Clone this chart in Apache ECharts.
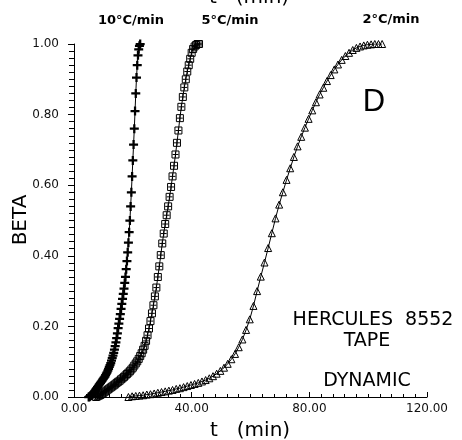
<!DOCTYPE html>
<html>
<head>
<meta charset="utf-8">
<script src="https://cdn.jsdelivr.net/npm/echarts@6/dist/echarts.min.js"></script>
<style>
  html, body { margin: 0; padding: 0; background: #fff; }
  #chart { width: 462px; height: 440px; }
</style>
</head>
<body>
<div id="chart"></div>
<script>
// Degree of cure (BETA) versus time for three heating rates, Hercules 8552 tape.

// 10 °C/min run
const time10 = [5.00,5.25,5.50,5.75,6.00,6.25,6.50,6.75,7.00,7.25,7.50,7.75,8.00,8.25,8.50,8.75,9.00,9.25,9.50,9.75,
  10.00,10.25,10.50,10.75,11.00,11.25,11.50,11.75,12.00,12.25,12.50,12.75,13.00,13.25,13.50,13.75,14.00,14.25,14.50,14.75,
  15.00,15.25,15.50,15.75,16.00,16.25,16.50,16.75,17.00,17.25,17.50,17.75,18.00,18.25,18.50,18.75,19.00,19.25,19.50,19.75,
  20.00,20.25,20.50,20.75,21.00,21.25,21.50,21.75,22.00,22.25,22.50];
const beta10 = [0.000,0.001,0.002,0.004,0.006,0.008,0.010,0.013,0.016,0.019,0.022,0.025,0.028,0.031,0.034,0.037,0.040,0.043,0.046,0.049,
  0.052,0.055,0.058,0.062,0.066,0.070,0.075,0.080,0.085,0.090,0.096,0.103,0.110,0.117,0.125,0.134,0.144,0.155,0.167,0.180,
  0.195,0.208,0.221,0.235,0.250,0.264,0.278,0.292,0.307,0.323,0.340,0.362,0.385,0.410,0.437,0.467,0.500,0.540,0.580,0.625,
  0.670,0.715,0.760,0.810,0.860,0.905,0.940,0.968,0.985,0.995,1.000];

// 5 °C/min run
const time5 = [7.5,8.0,8.5,9.0,9.5,10.0,10.5,11.0,11.5,12.0,12.5,13.0,13.5,14.0,14.5,15.0,15.5,16.0,16.5,17.0,
  17.5,18.0,18.5,19.0,19.5,20.0,20.5,21.0,21.5,22.0,22.5,23.0,23.5,24.0,24.5,25.0,25.5,26.0,26.5,27.0,
  27.5,28.0,28.5,29.0,29.5,30.0,30.5,31.0,31.5,32.0,32.5,33.0,33.5,34.0,34.5,35.0,35.5,36.0,36.5,37.0,
  37.5,38.0,38.5,39.0,39.5,40.0,40.5,41.0,41.5,42.0,42.5];
const beta5 = [0.000,0.002,0.004,0.006,0.009,0.012,0.015,0.018,0.021,0.024,0.027,0.030,0.033,0.036,0.040,0.043,0.046,0.050,0.053,0.057,
  0.061,0.065,0.069,0.073,0.078,0.083,0.089,0.095,0.101,0.108,0.116,0.124,0.134,0.145,0.159,0.175,0.194,0.215,0.237,0.260,
  0.285,0.310,0.340,0.370,0.402,0.435,0.463,0.490,0.515,0.540,0.567,0.595,0.625,0.655,0.687,0.720,0.755,0.790,0.822,0.850,
  0.877,0.900,0.922,0.940,0.958,0.975,0.986,0.993,0.997,1.000,1.000];

// 2 °C/min run
const time2 = [18.50,19.75,21.00,22.25,23.50,24.75,26.00,27.25,28.50,29.75,31.00,32.25,33.50,34.75,36.00,37.25,38.50,39.75,
  41.00,42.25,43.50,44.75,46.00,47.25,48.50,49.75,51.00,52.25,53.50,54.75,56.00,57.25,58.50,59.75,61.00,62.25,63.50,64.75,
  66.00,67.25,68.50,69.75,71.00,72.25,73.50,74.75,76.00,77.25,78.50,79.75,81.00,82.25,83.50,84.75,86.00,87.25,88.50,89.75,
  91.00,92.25,93.50,94.75,96.00,97.25,98.50,99.75,101.00,102.25,103.50,104.75];
const beta2 = [0.000,0.002,0.003,0.004,0.005,0.007,0.008,0.010,0.012,0.014,0.016,0.018,0.020,0.023,0.025,0.028,0.031,0.034,
  0.037,0.040,0.044,0.048,0.053,0.059,0.066,0.074,0.083,0.094,0.107,0.122,0.141,0.163,0.190,0.220,0.258,0.300,0.341,0.381,
  0.422,0.464,0.506,0.545,0.580,0.615,0.648,0.680,0.710,0.737,0.763,0.788,0.812,0.835,0.857,0.876,0.895,0.912,0.928,0.942,
  0.955,0.966,0.975,0.983,0.989,0.993,0.996,0.998,0.999,1.000,1.000,1.000];

const seriesNames = ['10°C/min', '5°C/min', '2°C/min'];
const panelLetter = 'D';
const noteLines = ['HERCULES  8552', 'TAPE', 'DYNAMIC'];
const xTitle = 't   (min)';
const yTitle = 'BETA';

const zip = (xs, ys) => xs.map((x, i) => [x, ys[i]]);

const PLUS = 'path://M3,0h2v3h3v2h-3v3h-2v-3h-3v-2h3z';
const BOXED = 'path://M0,0H6V6H0Z M3,0.5V5.5 M0.5,3H5.5';

function curve(name, data, symbol, size, hollow) {
  return {
    name: name,
    type: 'line',
    data: data,
    symbol: symbol,
    symbolSize: size,
    showAllSymbol: true,
    lineStyle: { color: '#000', width: 1 },
    itemStyle: hollow
      ? { color: 'rgba(0,0,0,0)', borderColor: '#000', borderWidth: 1 }
      : { color: '#000', borderWidth: 0 },
    emphasis: { disabled: true },
    z: 3
  };
}

const chart = echarts.init(document.getElementById('chart'), null, { renderer: 'canvas' });

const tickFont = { fontFamily: 'DejaVu Sans', fontSize: 12, color: '#111' };
const sans = 'Liberation Sans, DejaVu Sans, sans-serif';

function label(text, x, y, size, extra) {
  return {
    type: 'text',
    style: Object.assign({
      text: text, x: x, y: y, textAlign: 'center', textVerticalAlign: 'middle',
      fontFamily: 'DejaVu Sans', fontSize: size, fill: '#000'
    }, extra || {})
  };
}

chart.setOption({
  animation: false,
  backgroundColor: '#fff',
  grid: { left: 74, right: 35, top: 44, bottom: 43, containLabel: false },
  xAxis: {
    type: 'value',
    min: 0, max: 120, interval: 40,
    axisLine: { lineStyle: { color: '#000', width: 1 } },
    axisTick: { inside: true, length: 5, lineStyle: { color: '#000', width: 1 } },
    minorTick: { show: true, splitNumber: 10, length: 3, lineStyle: { color: '#000', width: 1 } },
    splitLine: { show: false },
    axisLabel: Object.assign({ margin: 6, formatter: v => v.toFixed(2) }, tickFont)
  },
  yAxis: {
    type: 'value',
    min: 0, max: 1, interval: 0.2,
    axisLine: { show: true, lineStyle: { color: '#000', width: 1 } },
    axisTick: { show: true, inside: false, length: 6, lineStyle: { color: '#000', width: 1 } },
    minorTick: { show: true, splitNumber: 10, length: 5, lineStyle: { color: '#000', width: 1 } },
    splitLine: { show: false },
    axisLabel: Object.assign({ margin: 15, formatter: v => v.toFixed(2) }, tickFont)
  },
  series: [
    curve(seriesNames[0], zip(time10, beta10), PLUS, 9, false),
    curve(seriesNames[1], zip(time5, beta5), BOXED, 7, true),
    curve(seriesNames[2], zip(time2, beta2), 'triangle', 7, true)
  ],
  graphic: [
    // axis titles (bottom, and the top copy running off the page edge)
    label(xTitle, 250, 431, 20),
    label(xTitle, 249, -2, 20),
    { type: 'text', x: 21, y: 220, rotation: Math.PI / 2,
      style: { text: yTitle, x: 0, y: 0, textAlign: 'center', textVerticalAlign: 'middle', fontFamily: 'DejaVu Sans', fontSize: 20, fill: '#000' } },
    // heating-rate labels
    label(seriesNames[0], 131, 21, 13, { fontWeight: 'bold' }),
    label(seriesNames[1], 230, 21, 13, { fontWeight: 'bold' }),
    label(seriesNames[2], 391, 20, 13, { fontWeight: 'bold' }),
    // panel letter and notes
    label(panelLetter, 374, 102, 31, { fontFamily: sans }),
    label(noteLines[0], 373, 320, 19),
    label(noteLines[1], 367, 341, 19),
    label(noteLines[2], 367, 381, 19)
  ]
});
</script>
</body>
</html>
